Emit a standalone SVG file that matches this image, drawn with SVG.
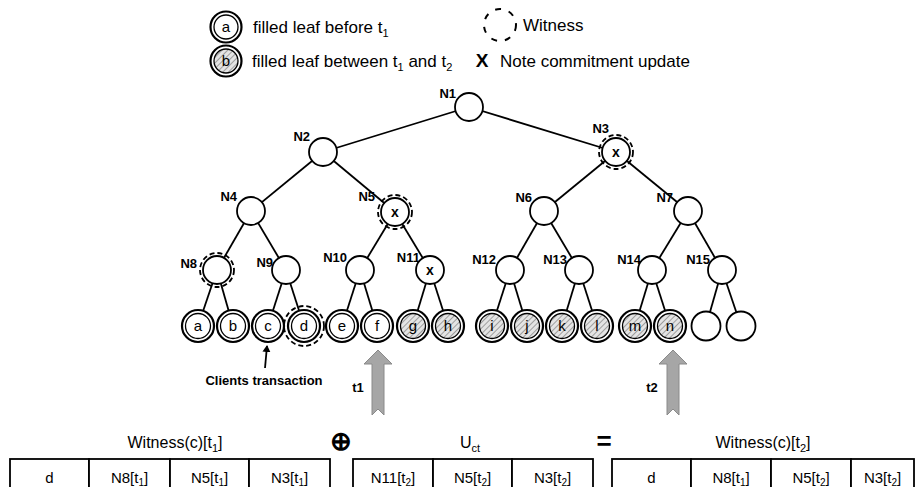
<svg xmlns="http://www.w3.org/2000/svg" width="923" height="487" viewBox="0 0 923 487">
<style>
text{font-family:"Liberation Sans",Arial,sans-serif;fill:#000}
.lbl{font-size:13px;font-weight:bold;text-anchor:end}
.x{font-size:14px;font-weight:bold;text-anchor:middle}
.lf{font-size:15px;text-anchor:middle}
.leg{font-size:17px}
.ttl{font-size:16px;text-anchor:middle}
.cell{font-size:15px;text-anchor:middle}
.node{fill:#fff;stroke:#000;stroke-width:1.8}
.out{fill:#fff;stroke:#000;stroke-width:2.2}
.in{fill:#fff;stroke:#000;stroke-width:1.3}
.inh{fill:url(#hatch);stroke:#000;stroke-width:1.3}
.wit{fill:none;stroke:#000;stroke-width:1.8;stroke-dasharray:5 3}
.edge{stroke:#000;stroke-width:1.8;fill:none}
.tbl{fill:#fff;stroke:#000;stroke-width:1.8}
.garrow{fill:#a6a6a6;stroke:#8a8a8a;stroke-width:1}
</style>
<defs>
<pattern id="hatch" width="4" height="4" patternUnits="userSpaceOnUse" patternTransform="rotate(45)">
<rect width="4" height="4" fill="#e4e4e4"/>
<line x1="0" y1="0" x2="0" y2="4" stroke="#8c8c8c" stroke-width="1.6"/>
</pattern>
<marker id="ah" markerWidth="8" markerHeight="8" refX="6" refY="4" orient="auto" markerUnits="userSpaceOnUse">
<path d="M0,0 L7,4 L0,8 Z" fill="#000"/>
</marker>
</defs>

<g id="legend">
<circle class="out" cx="226" cy="27" r="15.5"/><circle class="in" cx="226" cy="27" r="12"/>
<text class="lf" x="226" y="32">a</text>
<text class="leg" x="253" y="33">filled leaf before t<tspan font-size="11" dy="4">1</tspan></text>
<circle class="out" cx="226" cy="61" r="15.5"/><circle class="inh" cx="226" cy="61" r="12"/>
<text class="lf" x="226" y="66">b</text>
<text class="leg" x="252" y="67">filled leaf between t<tspan font-size="11" dy="4">1</tspan><tspan dy="-4"> and t</tspan><tspan font-size="11" dy="4">2</tspan></text>
<circle cx="500" cy="25" r="16" fill="none" stroke="#000" stroke-width="2" stroke-dasharray="6 8"/>
<text class="leg" x="523" y="31">Witness</text>
<text x="482" y="67" font-size="19" font-weight="bold" text-anchor="middle">X</text>
<text class="leg" x="500" y="67">Note commitment update</text>
</g>

<g id="connectors">
<line class="edge" x1="469" y1="107" x2="323" y2="152"/>
<line class="edge" x1="469" y1="107" x2="616" y2="152"/>
<line class="edge" x1="323" y1="152" x2="251" y2="211"/>
<line class="edge" x1="323" y1="152" x2="395" y2="212"/>
<line class="edge" x1="616" y1="152" x2="544" y2="211"/>
<line class="edge" x1="616" y1="152" x2="688" y2="211"/>
<line class="edge" x1="251" y1="211" x2="217" y2="270"/>
<line class="edge" x1="251" y1="211" x2="286" y2="270"/>
<line class="edge" x1="395" y1="212" x2="360" y2="270"/>
<line class="edge" x1="395" y1="212" x2="430" y2="270"/>
<line class="edge" x1="544" y1="211" x2="510" y2="270"/>
<line class="edge" x1="544" y1="211" x2="579" y2="270"/>
<line class="edge" x1="688" y1="211" x2="652" y2="270"/>
<line class="edge" x1="688" y1="211" x2="722" y2="270"/>
<line class="edge" x1="217" y1="270" x2="198" y2="326"/>
<line class="edge" x1="217" y1="270" x2="233" y2="326"/>
<line class="edge" x1="286" y1="270" x2="268" y2="326"/>
<line class="edge" x1="286" y1="270" x2="304" y2="326"/>
<line class="edge" x1="360" y1="270" x2="342" y2="326"/>
<line class="edge" x1="360" y1="270" x2="377" y2="326"/>
<line class="edge" x1="430" y1="270" x2="413" y2="326"/>
<line class="edge" x1="430" y1="270" x2="448" y2="326"/>
<line class="edge" x1="510" y1="270" x2="492" y2="326"/>
<line class="edge" x1="510" y1="270" x2="527" y2="326"/>
<line class="edge" x1="579" y1="270" x2="562" y2="326"/>
<line class="edge" x1="579" y1="270" x2="597" y2="326"/>
<line class="edge" x1="652" y1="270" x2="635" y2="326"/>
<line class="edge" x1="652" y1="270" x2="670" y2="326"/>
<line class="edge" x1="722" y1="270" x2="706" y2="326"/>
<line class="edge" x1="722" y1="270" x2="741" y2="326"/>
<line class="edge" x1="265" y1="368" x2="267" y2="346" marker-end="url(#ah)"/>
</g>

<g id="N1"><circle class="node" cx="469" cy="107" r="14"/><text class="lbl" x="456" y="98">N1</text></g>
<g id="N2"><circle class="node" cx="323" cy="152" r="14"/><text class="lbl" x="310" y="141">N2</text></g>
<g id="N3"><circle class="node" cx="616" cy="152" r="14"/><circle class="wit" cx="616" cy="152" r="17"/><text class="x" x="616" y="157">x</text><text class="lbl" x="609" y="133">N3</text></g>
<g id="N4"><circle class="node" cx="251" cy="211" r="14"/><text class="lbl" x="237" y="201">N4</text></g>
<g id="N5"><circle class="node" cx="395" cy="212" r="14"/><circle class="wit" cx="395" cy="212" r="17"/><text class="x" x="395" y="217">x</text><text class="lbl" x="375" y="201">N5</text></g>
<g id="N6"><circle class="node" cx="544" cy="211" r="14"/><text class="lbl" x="532" y="202">N6</text></g>
<g id="N7"><circle class="node" cx="688" cy="211" r="14"/><text class="lbl" x="673" y="202">N7</text></g>
<g id="N8"><circle class="node" cx="217" cy="270" r="14"/><circle class="wit" cx="217" cy="270" r="17"/><text class="lbl" x="197" y="268">N8</text></g>
<g id="N9"><circle class="node" cx="286" cy="270" r="14"/><text class="lbl" x="273" y="267">N9</text></g>
<g id="N10"><circle class="node" cx="360" cy="270" r="14"/><text class="lbl" x="347" y="262">N10</text></g>
<g id="N11"><circle class="node" cx="430" cy="270" r="14"/><text class="x" x="430" y="275">x</text><text class="lbl" x="420" y="262">N11</text></g>
<g id="N12"><circle class="node" cx="510" cy="270" r="14"/><text class="lbl" x="496" y="264">N12</text></g>
<g id="N13"><circle class="node" cx="579" cy="270" r="14"/><text class="lbl" x="567" y="264">N13</text></g>
<g id="N14"><circle class="node" cx="652" cy="270" r="14"/><text class="lbl" x="641" y="264">N14</text></g>
<g id="N15"><circle class="node" cx="722" cy="270" r="14"/><text class="lbl" x="710" y="264">N15</text></g>

<g id="leaf-a"><circle class="out" cx="198" cy="326" r="16"/><circle class="in" cx="198" cy="326" r="12.5"/><text class="lf" x="198" y="331">a</text></g>
<g id="leaf-b"><circle class="out" cx="233" cy="326" r="16"/><circle class="in" cx="233" cy="326" r="12.5"/><text class="lf" x="233" y="331">b</text></g>
<g id="leaf-c"><circle class="out" cx="268" cy="326" r="16"/><circle class="in" cx="268" cy="326" r="12.5"/><text class="lf" x="268" y="331">c</text></g>
<g id="leaf-d"><circle class="out" cx="304" cy="326" r="16"/><circle class="in" cx="304" cy="326" r="12.5"/><circle class="wit" cx="304" cy="326" r="20"/><text class="lf" x="304" y="331">d</text></g>
<g id="leaf-e"><circle class="out" cx="342" cy="326" r="16"/><circle class="in" cx="342" cy="326" r="12.5"/><text class="lf" x="342" y="331">e</text></g>
<g id="leaf-f"><circle class="out" cx="377" cy="326" r="16"/><circle class="in" cx="377" cy="326" r="12.5"/><text class="lf" x="377" y="331">f</text></g>
<g id="leaf-g"><circle class="out" cx="413" cy="326" r="16"/><circle class="inh" cx="413" cy="326" r="12.5"/><text class="lf" x="413" y="331">g</text></g>
<g id="leaf-h"><circle class="out" cx="448" cy="326" r="16"/><circle class="inh" cx="448" cy="326" r="12.5"/><text class="lf" x="448" y="331">h</text></g>
<g id="leaf-i"><circle class="out" cx="492" cy="326" r="16"/><circle class="inh" cx="492" cy="326" r="12.5"/><text class="lf" x="492" y="331">i</text></g>
<g id="leaf-j"><circle class="out" cx="527" cy="326" r="16"/><circle class="inh" cx="527" cy="326" r="12.5"/><text class="lf" x="527" y="331">j</text></g>
<g id="leaf-k"><circle class="out" cx="562" cy="326" r="16"/><circle class="inh" cx="562" cy="326" r="12.5"/><text class="lf" x="562" y="331">k</text></g>
<g id="leaf-l"><circle class="out" cx="597" cy="326" r="16"/><circle class="inh" cx="597" cy="326" r="12.5"/><text class="lf" x="597" y="331">l</text></g>
<g id="leaf-m"><circle class="out" cx="635" cy="326" r="16"/><circle class="inh" cx="635" cy="326" r="12.5"/><text class="lf" x="635" y="331">m</text></g>
<g id="leaf-n"><circle class="out" cx="670" cy="326" r="16"/><circle class="inh" cx="670" cy="326" r="12.5"/><text class="lf" x="670" y="331">n</text></g>
<g id="leaf-o"><circle class="node" cx="706" cy="326" r="14.5"/></g>
<g id="leaf-p"><circle class="node" cx="741" cy="326" r="14.5"/></g>

<g id="clients">
<text x="264" y="385" font-size="13" font-weight="bold" text-anchor="middle">Clients transaction</text>
</g>

<g id="t1">
<path class="garrow" d="M378,350 L392,364 L384,364 L384,415 L378,409 L372,415 L372,364 L364,364 Z"/>
<text x="358" y="392" font-size="13" font-weight="bold" text-anchor="middle">t1</text>
</g>
<g id="t2">
<path class="garrow" d="M673,350 L687,364 L679,364 L679,415 L673,409 L667,415 L667,364 L659,364 Z"/>
<text x="652" y="392" font-size="13" font-weight="bold" text-anchor="middle">t2</text>
</g>

<g id="witness-t1">
<text class="ttl" x="175" y="448">Witness(c)[t<tspan font-size="11" dy="4">1</tspan><tspan dy="-4">]</tspan></text>
<rect class="tbl" x="10" y="459" width="79" height="40"/>
<rect class="tbl" x="89" y="459" width="81" height="40"/>
<rect class="tbl" x="170" y="459" width="79" height="40"/>
<rect class="tbl" x="249" y="459" width="81" height="40"/>
<text class="cell" x="49.5" y="483">d</text>
<text class="cell" x="129.5" y="483">N8[t<tspan font-size="10" dy="3">1</tspan><tspan dy="-3">]</tspan></text>
<text class="cell" x="209.5" y="483">N5[t<tspan font-size="10" dy="3">1</tspan><tspan dy="-3">]</tspan></text>
<text class="cell" x="289.5" y="483">N3[t<tspan font-size="10" dy="3">1</tspan><tspan dy="-3">]</tspan></text>
</g>

<g id="oplus"><text x="341" y="450" font-size="26" font-weight="bold" text-anchor="middle" font-family="DejaVu Sans">⊕</text></g>

<g id="uct">
<text class="ttl" x="470" y="448">U<tspan font-size="11" dy="4">ct</tspan></text>
<rect class="tbl" x="353" y="459" width="80" height="40"/>
<rect class="tbl" x="433" y="459" width="79" height="40"/>
<rect class="tbl" x="512" y="459" width="81" height="40"/>
<text class="cell" x="393" y="483">N11[t<tspan font-size="10" dy="3">2</tspan><tspan dy="-3">]</tspan></text>
<text class="cell" x="472.5" y="483">N5[t<tspan font-size="10" dy="3">2</tspan><tspan dy="-3">]</tspan></text>
<text class="cell" x="552.5" y="483">N3[t<tspan font-size="10" dy="3">2</tspan><tspan dy="-3">]</tspan></text>
</g>

<g id="equals"><text x="604" y="450" font-size="26" font-weight="bold" text-anchor="middle">=</text></g>

<g id="witness-t2">
<text class="ttl" x="763" y="448">Witness(c)[t<tspan font-size="11" dy="4">2</tspan><tspan dy="-4">]</tspan></text>
<rect class="tbl" x="612" y="459" width="79" height="40"/>
<rect class="tbl" x="691" y="459" width="80" height="40"/>
<rect class="tbl" x="771" y="459" width="80" height="40"/>
<rect class="tbl" x="851" y="459" width="63" height="40"/>
<text class="cell" x="651.5" y="483">d</text>
<text class="cell" x="731" y="483">N8[t<tspan font-size="10" dy="3">1</tspan><tspan dy="-3">]</tspan></text>
<text class="cell" x="811" y="483">N5[t<tspan font-size="10" dy="3">2</tspan><tspan dy="-3">]</tspan></text>
<text class="cell" x="882.5" y="483">N3[t<tspan font-size="10" dy="3">2</tspan><tspan dy="-3">]</tspan></text>
</g>
</svg>
